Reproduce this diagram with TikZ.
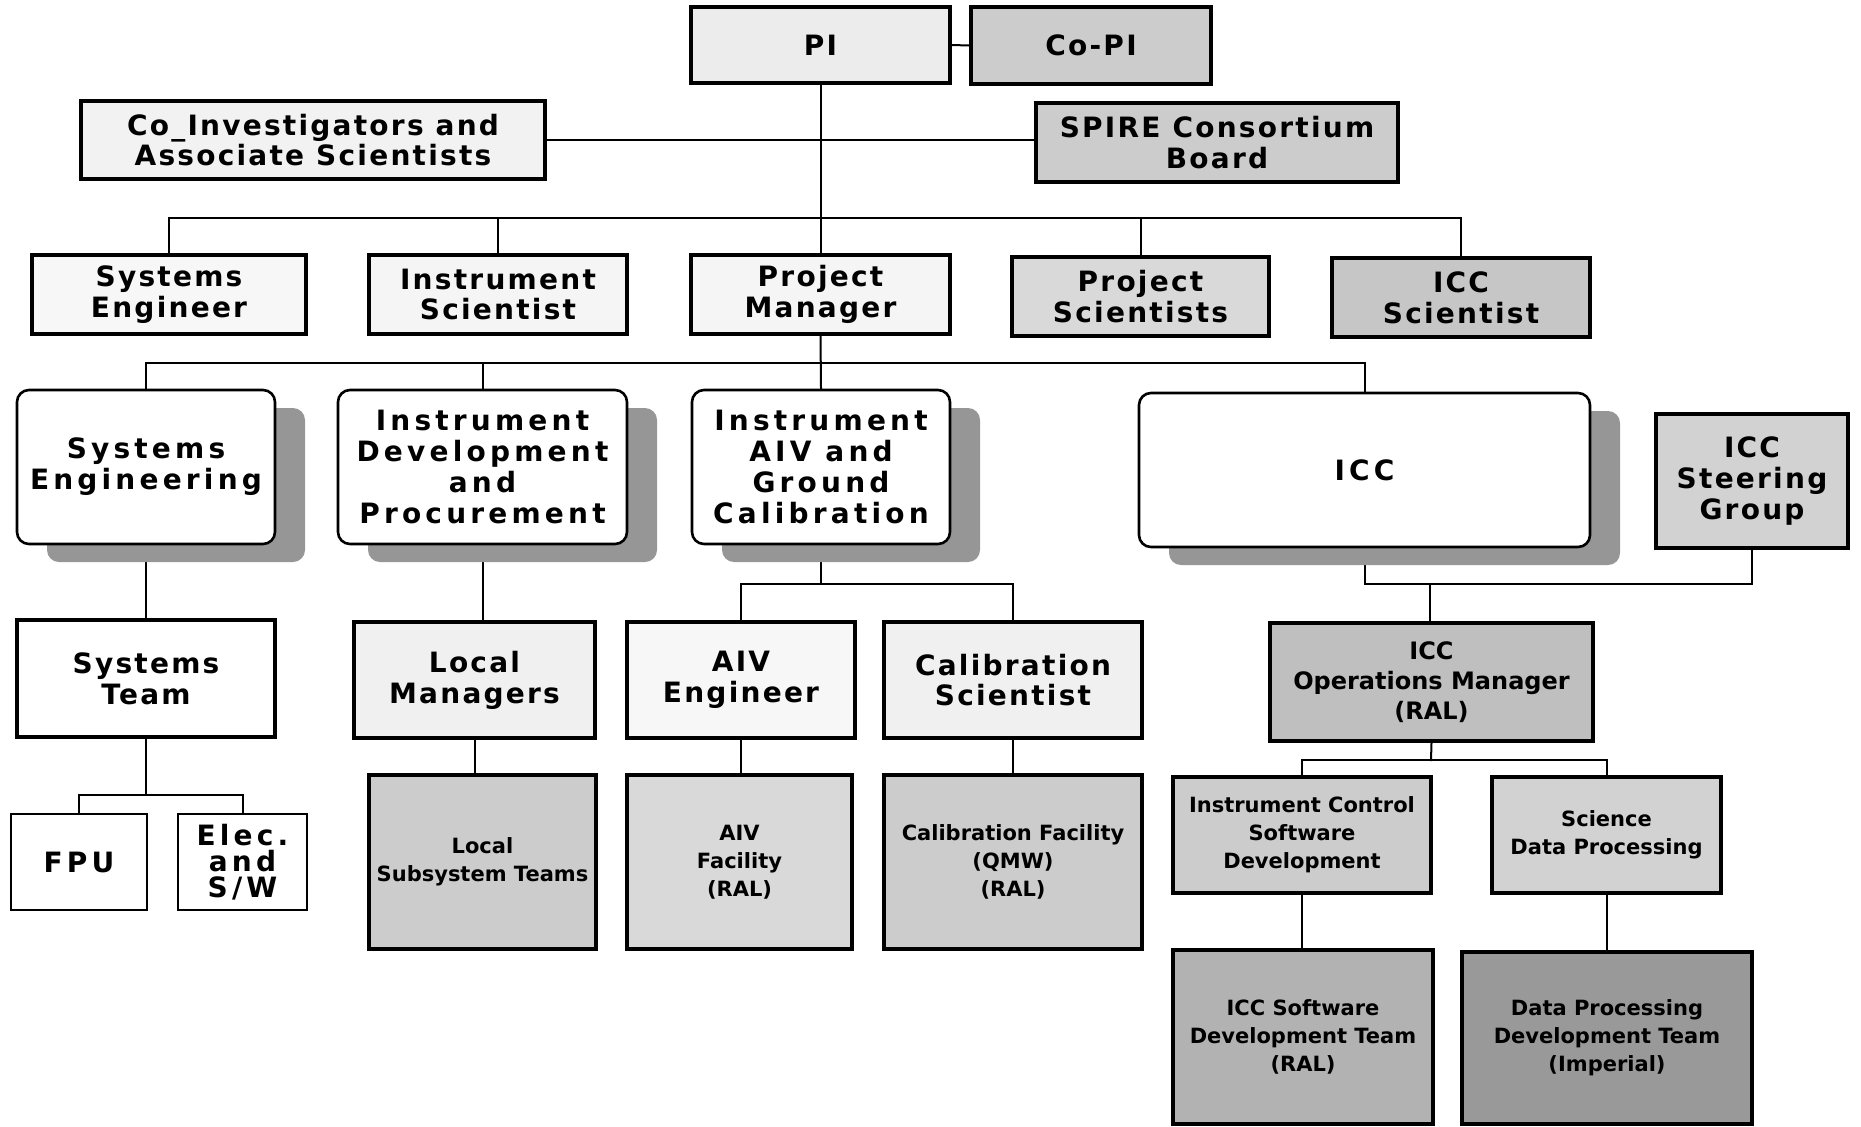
\documentclass[tikz,border=0pt]{standalone}
\usepackage{fontspec}
\setmainfont{DejaVu Sans}
\newfontfamily\heavyfont[LetterSpace=8]{DejaVu Sans}
\newfontfamily\widefont[LetterSpace=15]{DejaVu Sans}
\usetikzlibrary{shadows,backgrounds}
\tikzset{
  sq/.style={draw, line width=1.8pt, align=center, inner sep=2pt,
    font=\heavyfont\bfseries\fontsize{14}{15.4}\selectfont},
  dk/.style={sq, font=\bfseries\fontsize{10.5}{14}\selectfont},
  rb/.style={draw, rounded corners=6pt, line width=1.3pt, fill=white, align=center, inner sep=2pt,
    font=\widefont\bfseries\fontsize{14}{15.4}\selectfont,
    general shadow={fill=gray!82, shadow xshift=15pt, shadow yshift=-9pt}},
  thinbox/.style={draw, line width=1.1pt, fill=white, align=center, inner sep=2pt,
    font=\widefont\bfseries\fontsize{14}{13}\selectfont},
  conn/.style={line width=1pt, line cap=rect},
}
\newcommand\orgbox[7]{\node[#2, minimum width={(#5-#3)*0.5pt}, minimum height={(#6-#4)*0.5pt}] (#1) at ({(#3+#5)/2},{(#4+#6)/2}) {#7};}
\begin{document}
\begin{tikzpicture}[x=0.5pt, y=-0.5pt]
\useasboundingbox (0,0) rectangle (1861,1126);
% top
\orgbox{pi}{sq, fill=gray!15}{691}{7}{950}{83}{PI}
\orgbox{copi}{sq, fill=gray!40}{971}{7}{1211}{84}{Co-PI}
\orgbox{coi}{sq, fill=gray!10}{81}{101}{545}{179}{Co\_Investigators and\\Associate Scientists}
\orgbox{spire}{sq, fill=gray!40}{1036}{103}{1398}{182}{SPIRE Consortium\\Board}
% row 2
\orgbox{se}{sq, fill=gray!6}{32}{255}{306}{334}{Systems\\Engineer}
\orgbox{is}{sq, fill=gray!8}{369}{255}{627}{334}{Instrument\\Scientist}
\orgbox{pm}{sq, fill=gray!8}{691}{255}{950}{334}{Project\\Manager}
\orgbox{ps}{sq, fill=gray!30}{1012}{257}{1269}{336}{Project\\Scientists}
\orgbox{iccs}{sq, fill=gray!45}{1332}{258}{1590}{337}{ICC\\Scientist}
% row 3
\orgbox{sye}{rb}{17}{390}{275}{544}{Systems\\Engineering}
\orgbox{idp}{rb}{338}{390}{627}{544}{Instrument\\Development\\and\\Procurement}
\orgbox{aivg}{rb}{692}{390}{950}{544}{Instrument\\AIV and\\Ground\\Calibration}
\orgbox{icc}{rb}{1139}{393}{1590}{547}{ICC}
\orgbox{steer}{sq, fill=gray!35}{1656}{414}{1848}{548}{ICC\\Steering\\Group}
% row 4
\orgbox{st}{sq, fill=white}{17}{620}{275}{737}{Systems\\Team}
\orgbox{lm}{sq, fill=gray!12}{354}{622}{595}{738}{Local\\Managers}
\orgbox{aive}{sq, fill=gray!6}{627}{622}{855}{738}{AIV\\Engineer}
\orgbox{cal}{sq, fill=gray!12}{884}{622}{1142}{738}{Calibration\\Scientist}
\orgbox{iccm}{dk, fill=gray!50, font=\bfseries\fontsize{12}{15}\selectfont}{1270}{623}{1593}{741}{ICC\\Operations Manager\\(RAL)}
% row 5
\orgbox{fpu}{thinbox}{11}{814}{147}{910}{FPU}
\orgbox{elec}{thinbox}{178}{814}{307}{910}{Elec.\\and\\S/W}
\orgbox{lc}{dk, fill=gray!40}{369}{775}{596}{949}{Local\\Subsystem Teams}
\orgbox{aivc}{dk, fill=gray!30}{627}{775}{852}{949}{AIV\\Facility\\(RAL)}
\orgbox{calc}{dk, fill=gray!40}{884}{775}{1142}{949}{Calibration Facility\\(QMW)\\(RAL)}
\orgbox{ic1}{dk, fill=gray!40}{1173}{777}{1431}{893}{Instrument Control\\Software\\Development}
\orgbox{ic2}{dk, fill=gray!35}{1492}{777}{1721}{893}{Science\\Data Processing}
\orgbox{bt1}{dk, fill=gray!60}{1173}{950}{1433}{1124}{ICC Software\\Development Team\\(RAL)}
\orgbox{bt2}{dk, fill=gray!80}{1462}{952}{1752}{1124}{Data Processing\\Development Team\\(Imperial)}
% connectors
\begin{pgfonlayer}{background}
\draw[conn] (pi.east) -- (copi.west);
\draw[conn] (pi.south) -- (pm.north);
\draw[conn] (coi.east) -- (coi.east -| spire.west);
\coordinate (b2) at (820,218);
\draw[conn] (se.north) |- (b2) -| (iccs.north);
\draw[conn] (is.north) -- (is.north |- b2);
\draw[conn] (ps.north) -- (ps.north |- b2);
\draw[conn] (pm.south) -- (aivg.north);
\coordinate (b3) at (820,363);
\draw[conn] (sye.north) |- (b3) -| (icc.north);
\draw[conn] (idp.north) -- (idp.north |- b3);
\draw[conn] (sye.south) -- (st.north);
\draw[conn] (idp.south) -- (idp.south |- lm.north);
\coordinate (b4a) at (821,584);
\draw[conn] (aivg.south) -- (b4a);
\draw[conn] (aive.north) |- (b4a) -| (cal.north);
\coordinate (b4b) at (1430,584);
\draw[conn] (icc.south) |- (b4b) -| (steer.south);
\draw[conn] (b4b) -- (b4b |- iccm.north);
\coordinate (b5a) at (146,795);
\draw[conn] (st.south) -- (b5a);
\draw[conn] (fpu.north) |- (b5a) -| (elec.north);
\draw[conn] (lm.south) -- (lm.south |- lc.north);
\draw[conn] (aive.south) -- (aive.south |- aivc.north);
\draw[conn] (cal.south) -- (cal.south |- calc.north);
\coordinate (b5b) at (1431,760);
\draw[conn] (iccm.south) -- (b5b);
\draw[conn] (ic1.north) |- (b5b) -| (ic2.north);
\draw[conn] (ic1.south) -- (ic1.south |- bt1.north);
\draw[conn] (ic2.south) -- (ic2.south |- bt2.north);
\end{pgfonlayer}
\end{tikzpicture}
\end{document}
